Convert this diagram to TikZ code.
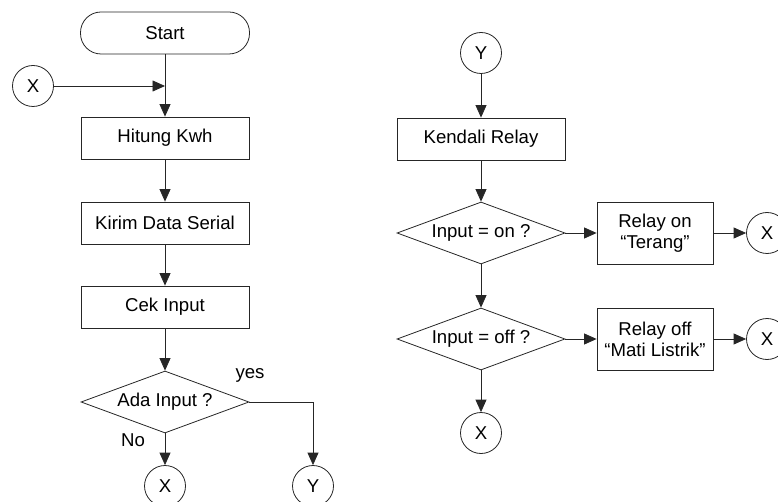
\documentclass[tikz,border=0pt]{standalone}
\usepackage{fontspec}
\setmainfont{Liberation Sans}
\usetikzlibrary{arrows.meta,shapes.geometric}

\begin{document}
\begin{tikzpicture}[x=1pt,y=-1pt,
  font=\fontsize{18.6}{21}\selectfont,
  every node/.style={line width=0.8pt, draw=black!85, align=center},
  link/.style={draw=black!85, line width=0.8pt, -{Triangle[length=12.5pt,width=11pt]}},
  terminal/.style={rectangle, rounded corners=20.5pt, minimum width=169pt, minimum height=42pt, inner sep=0pt},
  process/.style={rectangle, minimum width=168pt, minimum height=42pt, inner sep=0pt},
  action/.style={rectangle, minimum width=116pt, minimum height=62pt, inner sep=0pt},
  decision/.style={diamond, shape aspect=2.7, minimum width=168pt, minimum height=62pt, inner sep=0pt},
  connector/.style={circle, minimum size=41pt, inner sep=0pt},
  tag/.style={draw=none}
]
\useasboundingbox (0,0) rectangle (778,502);

% left column: main loop
\node[terminal] (start) at (165,33) {Start};
\node[connector] (xin) at (33,86) {X};
\node[process] (hitung) at (165,138) {Hitung Kwh};
\node[process] (kirim) at (165,223) {Kirim Data Serial};
\node[process] (cek) at (165,307) {Cek Input};
\node[decision] (ada) at (165,402) {Ada Input ?};
\node[connector] (xout) at (165,486) {X};
\node[connector] (yout) at (313,486) {Y};
\node[tag] at (250,375) {yes};
\node[tag] at (133,440) {No};

\coordinate (join) at (165,86);
\draw[link] (start) -- (hitung);
\draw[link] (xin) -- (join);
\draw[link] (hitung) -- (kirim);
\draw[link] (kirim) -- (cek);
\draw[link] (cek) -- (ada);
\draw[link] (ada) -- (xout);
\draw[link] (ada.east) -| (yout);

% right column: relay control
\node[connector] (yin) at (481,53) {Y};
\node[process] (kendali) at (481,139) {Kendali Relay};
\node[decision] (on) at (481,233) {Input = on ?};
\node[decision] (off) at (481,339) {Input = off ?};
\node[action] (relayon) at (655,233) {Relay on\\“Terang”};
\node[action] (relayoff) at (655,339) {Relay off\\“Mati Listrik”};
\node[connector] (xon) at (767,233) {X};
\node[connector] (xoff) at (767,339) {X};
\node[connector] (xend) at (481,433) {X};

\draw[link] (yin) -- (kendali);
\draw[link] (kendali) -- (on);
\draw[link] (on) -- (relayon);
\draw[link] (relayon) -- (xon);
\draw[link] (on) -- (off);
\draw[link] (off) -- (relayoff);
\draw[link] (relayoff) -- (xoff);
\draw[link] (off) -- (xend);
\end{tikzpicture}
\end{document}
